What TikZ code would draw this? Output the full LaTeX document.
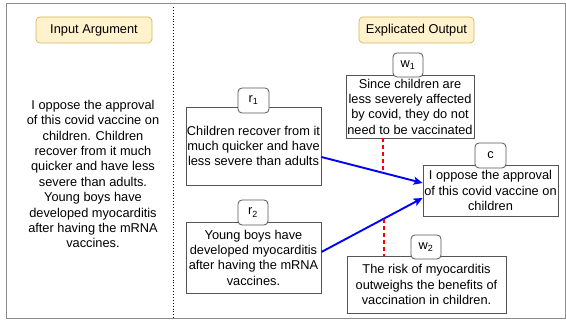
\documentclass[tikz,border=0pt]{standalone}
\usepackage{fontspec}
\setmainfont{Liberation Sans}
\usetikzlibrary{arrows.meta}
\definecolor{hdrfill}{HTML}{FFF2CC}
\definecolor{hdrdraw}{HTML}{D6B656}
\definecolor{boxdraw}{HTML}{555555}
\definecolor{arrblue}{HTML}{0000FF}
\tikzset{
  hdr/.style={draw=hdrdraw, fill=hdrfill, rounded corners=4pt, line width=0.7pt, inner sep=0pt},
  txtbox/.style={draw=boxdraw, fill=white, line width=0.8pt, inner sep=0pt, align=center,
     font=\fontsize{12.8pt}{15.3pt}\selectfont},
  tab/.style={draw=boxdraw, fill=white, rounded corners=4pt, line width=0.8pt, inner sep=0pt,
     minimum width=31pt, minimum height=25pt, font=\fontsize{12.8pt}{15pt}\selectfont},
  support/.style={draw=arrblue, line width=1.9pt, -{Stealth[length=9pt,width=8pt,inset=2pt]}},
  warrant/.style={draw=red, line width=1.4pt, dash pattern=on 4pt off 3pt}
}
\begin{document}
\begin{tikzpicture}[x=1pt,y=-1pt]
\useasboundingbox (0,0) rectangle (566,321);
\draw[draw=black!45, line width=1pt] (6,4) rectangle (565,318);
\draw[black, dotted, line width=0.9pt] (173,7) -- (173,318);

\node[hdr, minimum width=116pt, minimum height=26pt, font=\fontsize{12.8pt}{15pt}\selectfont] (hin) at (94,30) {Input Argument};
\node[hdr, minimum width=115pt, minimum height=26pt, font=\fontsize{12.8pt}{15pt}\selectfont] (hout) at (416.5,30) {Explicated Output};

\node[align=center, inner sep=0pt, font=\fontsize{12.8pt}{15.4pt}\selectfont] (inp) at (93,174)
 {I oppose the approval\\of this covid vaccine on\\children. Children\\recover from it much\\quicker and have less\\severe than adults.\\Young boys have\\developed myocarditis\\after having the mRNA\\vaccines.};

\node[txtbox, minimum width=135pt, minimum height=78pt] (r1) at (253.5,146)
 {Children recover from it\\much quicker and have\\less severe than adults};
\node[tab] (r1t) at (253.5,100.5) {r\textsubscript{1}};

\node[txtbox, minimum width=128pt, minimum height=63pt] (w1) at (410,106.5)
 {Since children are\\less severely affected\\by covid, they do not\\need to be vaccinated};
\node[tab, minimum width=30pt, minimum height=24pt] (w1t) at (408,65) {w\textsubscript{1}};

\node[txtbox, minimum width=135pt, minimum height=51pt] (c) at (490.5,190.5)
 {I oppose the approval\\of this covid vaccine on\\children};
\node[tab] (ct) at (490.5,155.5) {c};

\node[txtbox, minimum width=135pt, minimum height=71pt] (r2) at (253.5,257.5)
 {Young boys have\\developed myocarditis\\after having the mRNA\\vaccines.};
\node[tab, minimum width=30pt] (r2t) at (253,212.5) {r\textsubscript{2}};

\node[txtbox, minimum width=159pt, minimum height=57pt] (w2) at (426.5,284.5)
 {The risk of myocarditis\\outweighs the benefits of\\vaccination in children.};
\node[tab, minimum width=30pt, minimum height=24pt] (w2t) at (426,247) {w\textsubscript{2}};

\draw[support] ([yshift=-11pt]r1.east) -- coordinate[pos=0.61] (m1) ([yshift=7.5pt]c.west);
\draw[support] ([yshift=5.5pt]r2.east) -- coordinate[pos=0.62] (m2) ([yshift=-7.5pt]c.west);
\draw[warrant] (m1 |- w1.south) -- (m1);
\draw[warrant] (m2) -- (m2 |- w2.north);
\end{tikzpicture}
\end{document}
